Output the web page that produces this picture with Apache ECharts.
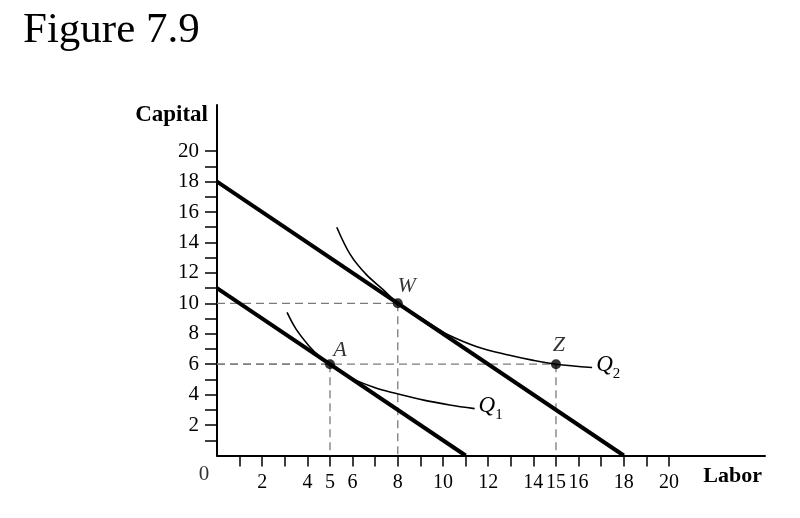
<!DOCTYPE html>
<html>
<head>
<meta charset="utf-8">
<script src="https://cdn.jsdelivr.net/npm/echarts@6/dist/echarts.min.js"></script>
<style>html,body{margin:0;padding:0;background:#fff;}#c{width:800px;height:518px;}</style>
</head>
<body>
<div id="c"></div>
<script>
// ---- data ----
var title = 'Figure 7.9';
var xName = 'Labor';
var yName = 'Capital';
var xTicks = [1,2,3,4,5,6,7,8,9,10,11,12,13,14,15,16,17,18,19,20];
var xTickLabels = [2,4,5,6,8,10,12,14,15,16,18,20];
var yTicks = [1,2,3,4,5,6,7,8,9,10,11,12,13,14,15,16,17,18,19,20];
var yTickLabels = [2,4,6,8,10,12,14,16,18,20];
var isocost1 = [[0,11],[11,0]];
var isocost2 = [[0,18],[18,0]];
var q1 = [[3.1,9.4],[3.5,8.3],[4.1,7.15],[4.55,6.5],[5,6],[6,5.05],[7,4.45],[7.8,4.12],[9.2,3.62],[10.3,3.32],[11.4,3.08]];
var q2 = [[5.3,15.0],[5.9,13.2],[6.6,11.9],[7.35,10.9],[8,10],[8.8,9.25],[9.6,8.5],[10.2,7.95],[11.5,7.15],[12.9,6.6],[14,6.25],[15,6],[16.6,5.78]];
var pointNames = ['W','A','Z'];
var pointL = [8,5,15];
var pointK = [10,6,6];
var curveNames = ['1','2'];

var serif = '"Liberation Serif", "DejaVu Serif", serif';
var dashes = [];
for (var i = 0; i < pointL.length; i++) {
  dashes.push([[0, pointK[i]], [pointL[i], pointK[i]]]);
  dashes.push([[pointL[i], pointK[i]], [pointL[i], 0]]);
}
var labelOffsets = {W:[9,-17], A:[10,-14], Z:[3,-19]};

var series = [];
dashes.forEach(function(d){
  series.push({type:'line', data:d, symbol:'none', silent:true,
    lineStyle:{color:'#7a7a7a', width:1.3, type:[8,5]}, z:1});
});
[isocost1, isocost2].forEach(function(d){
  series.push({type:'line', data:d, symbol:'none', lineStyle:{color:'#000', width:4}, z:3});
});
[q1, q2].forEach(function(d, idx){
  series.push({type:'line', data:d, smooth:0.35, symbol:'none', lineStyle:{color:'#000', width:1.6}, z:2,
    endLabel:{show:true, distance:4,
      formatter:'{q|Q}{s|' + curveNames[idx] + '}',
      rich:{q:{fontFamily:serif, fontStyle:'italic', fontSize:23, lineHeight:28, verticalAlign:'top', color:'#000'},
            s:{fontFamily:serif, fontSize:15, lineHeight:15, verticalAlign:'bottom', color:'#000'}}}});
});
series.push({type:'scatter', symbolSize:10, itemStyle:{color:'#000'}, z:5,
  data: pointNames.map(function(n,i){
    return {value:[pointL[i], pointK[i]], label:{show:true, formatter:n, position:'inside', offset:labelOffsets[n],
      fontFamily:serif, fontStyle:'italic', fontSize:22, color:'#000'}};
  })
});
series.push({type:'scatter', symbolSize:0, data:[{value:[0,0], label:{show:true, formatter:'0', position:'inside', offset:[-13,19],
  fontFamily:serif, fontSize:21, color:'#000'}}], z:5});

var chart = echarts.init(document.getElementById('c'), null, {renderer:'canvas'});
chart.setOption({
  animation:false,
  backgroundColor:'#fff',
  title:{text:title, left:18, top:4, textStyle:{fontFamily:serif, fontWeight:'normal', fontSize:43, color:'#000'}},
  grid:{left:217, right:35, top:105, bottom:62.5, containLabel:false},
  xAxis:{type:'value', min:0, max:24.25, name:xName, nameLocation:'end', nameGap:-3,
    nameTextStyle:{fontFamily:serif, fontWeight:'bold', fontSize:22, color:'#000', align:'right', verticalAlign:'top', padding:[10,0,0,0]},
    axisLine:{show:true, onZero:false, lineStyle:{color:'#000', width:2}},
    axisTick:{show:true, inside:false, length:11, customValues:xTicks, lineStyle:{color:'#000', width:1.5}},
    axisLabel:{show:true, customValues:xTickLabels, margin:17, fontFamily:serif, fontSize:20, color:'#000'},
    splitLine:{show:false}},
  yAxis:{type:'value', min:0, max:23.03, name:yName, nameLocation:'end', nameGap:-10,
    nameTextStyle:{fontFamily:serif, fontWeight:'bold', fontSize:23, color:'#000', align:'right', verticalAlign:'middle', padding:[0,9,0,0]},
    axisLine:{show:true, onZero:false, lineStyle:{color:'#000', width:2}},
    axisTick:{show:true, inside:false, length:12, customValues:yTicks, lineStyle:{color:'#000', width:1.5}},
    axisLabel:{show:true, customValues:yTickLabels, margin:18, fontFamily:serif, fontSize:21, color:'#000'},
    splitLine:{show:false}},
  series:series
});
</script>
</body>
</html>
